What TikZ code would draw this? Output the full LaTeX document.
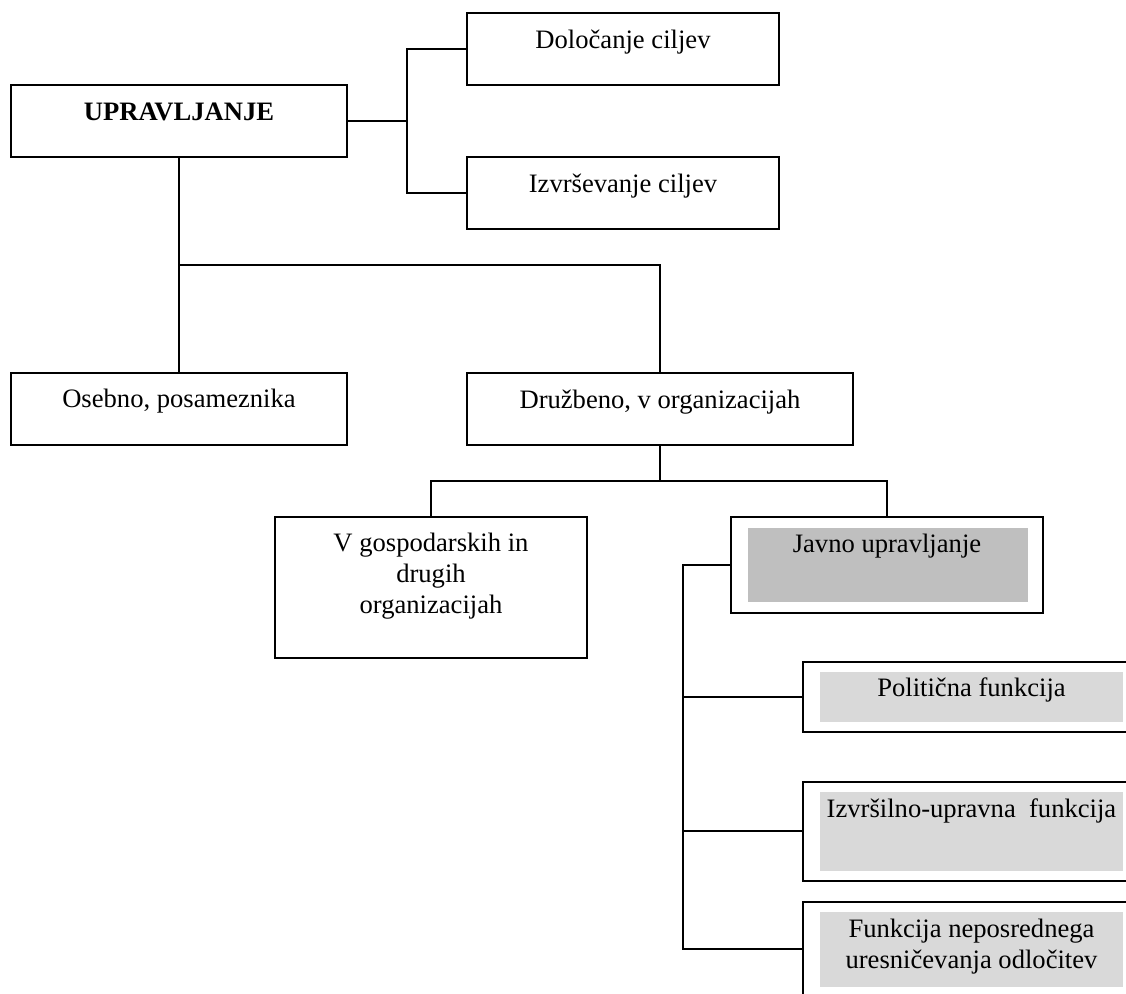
\documentclass[tikz,border=0pt]{standalone}
\usepackage{fontspec}
\setmainfont{Liberation Serif}
\usetikzlibrary{fit}
\begin{document}
\begin{tikzpicture}[x=0.5pt,y=-0.5pt,
  frame/.style={draw=black,line width=1pt,inner sep=0pt,rectangle},
  shadeA/.style={fill=black!25,draw=none,inner sep=0pt,rectangle},
  shadeB/.style={fill=black!15,draw=none,inner sep=0pt,rectangle},
  label/.style={font=\fontsize{13.3}{15.5}\selectfont,inner sep=0pt,anchor=base,align=center},
  link/.style={line width=1pt,black}]
\useasboundingbox (0,0) rectangle (1126,994);
\clip (0,0) rectangle (1126,994);
\fill[white] (0,0) rectangle (1126,994);

% top level and goals
\node[frame,fit={(11,85)(347,157)}] (upr) {};
\node[label,font=\fontsize{13.3}{15.5}\selectfont\bfseries] (tupr) at (179,121) {UPRAVLJANJE};
\node[frame,fit={(467,13)(779,85)}] (dol) {};
\node[label] (tdol) at (623,49) {Določanje ciljev};
\node[frame,fit={(467,157)(779,229)}] (izv) {};
\node[label] (tizv) at (623,193) {Izvrševanje ciljev};

% personal / social
\node[frame,fit={(11,373)(347,445)}] (osb) {};
\node[label] (tosb) at (179,408) {Osebno, posameznika};
\node[frame,fit={(467,373)(853,445)}] (druz) {};
\node[label] (tdruz) at (660,409) {Družbeno, v organizacijah};

% organisations (base anchor sits on the last line)
\node[frame,fit={(275,517)(587,658)}] (gosp) {};
\node[label] (tgosp) at (431,614) {V gospodarskih in\\drugih\\organizacijah};

% public administration
\node[frame,fit={(731,517)(1043,613)}] (jav) {};
\node[shadeA,fit={(748,528)(1028,602)}] (javin) {};
\node[label] (tjav) at (887,553) {Javno upravljanje};

% functions
\node[frame,fit={(803,662)(1150,732)}] (pol) {};
\node[shadeB,fit={(820,672)(1123,722)}] (polin) {};
\node[label] (tpol) at (971.5,697) {Politična funkcija};
\node[frame,fit={(803,782)(1150,881)}] (upr2) {};
\node[shadeB,fit={(820,792)(1123,871)}] (upr2in) {};
\node[label] (tupr2) at (971.5,818) {Izvršilno-upravna\ \ funkcija};
\node[frame,fit={(803,902)(1150,996)}] (fun) {};
\node[shadeB,fit={(820,912)(1123,987)}] (funin) {};
\node[label] (tfun) at (971.5,968) {Funkcija neposrednega\\uresničevanja odločitev};

% junctions
\coordinate (j1) at (407,121);
\coordinate (j2) at (179,265);
\coordinate (j3) at (660,481);
\coordinate (trunk) at (683,565);

% connectors
\draw[link] (upr.east) -- (j1);
\draw[link] (dol.west) -| (j1) |- (izv.west);
\draw[link] (upr.south) -- (osb.north);
\draw[link] (j2) -| (druz.north);
\draw[link] (druz.south) -- (j3);
\draw[link] (gosp.north) |- (j3) -| (jav.north);
\draw[link] (jav.west) -- (trunk) -- (trunk |- fun.west) -- (fun.west);
\draw[link] (trunk |- pol.west) -- (pol.west);
\draw[link] (trunk |- upr2.west) -- (upr2.west);
\end{tikzpicture}
\end{document}
